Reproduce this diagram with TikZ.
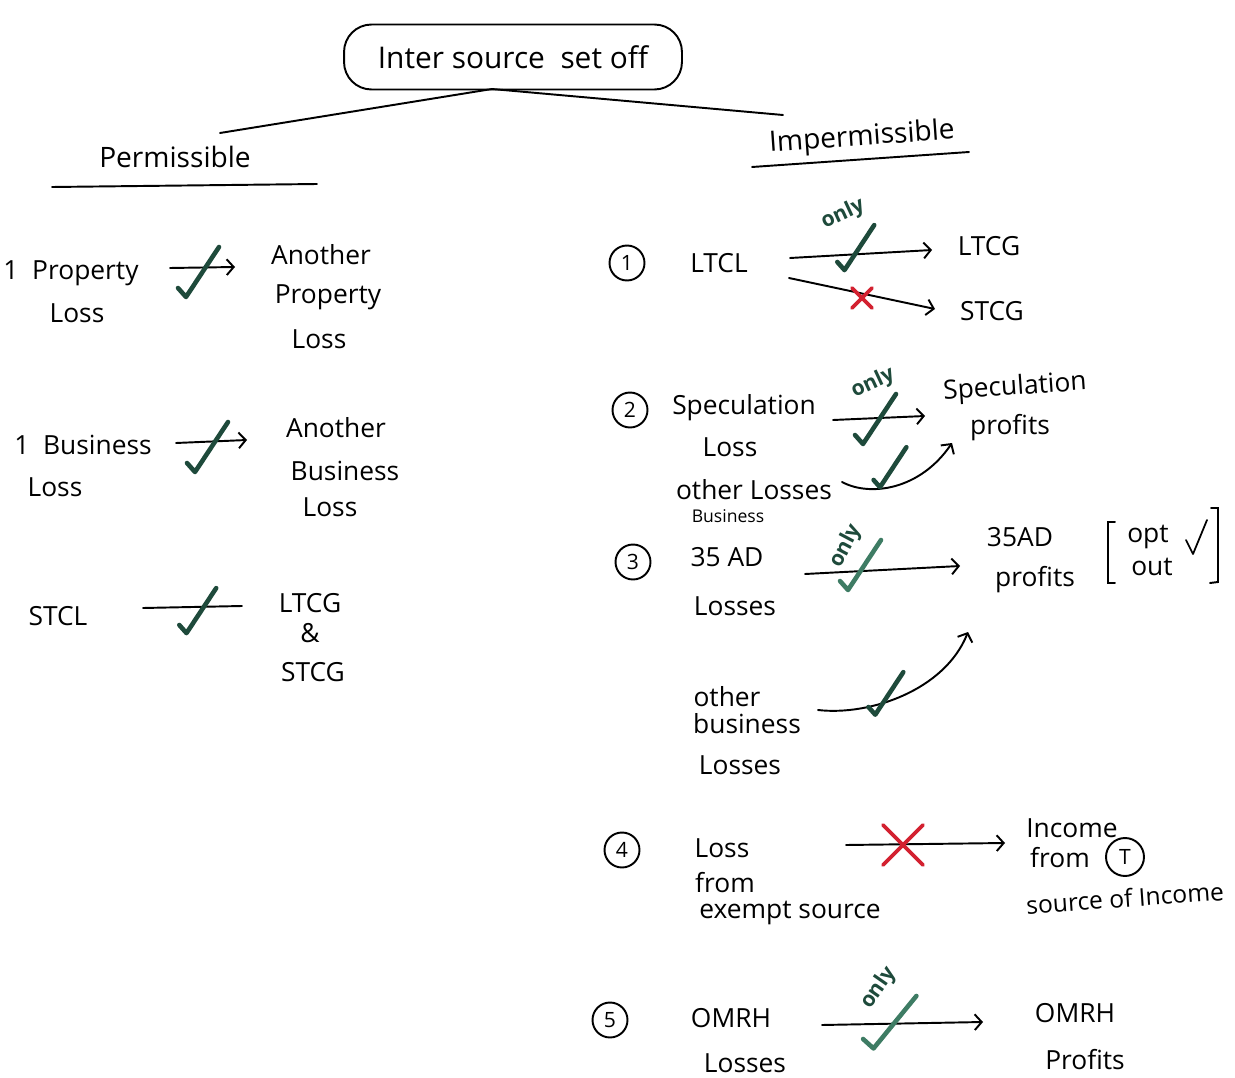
\documentclass[tikz,border=0pt]{standalone}
\usepackage{fontspec}
\setmainfont{Open Sans}
\usetikzlibrary{arrows.meta,calc}
\definecolor{dkgreen}{HTML}{1E4A3B}
\definecolor{ltgreen}{HTML}{3E7C64}
\definecolor{xred}{HTML}{D32130}
\begin{document}
\begin{tikzpicture}[x=0.02cm,y=-0.02cm,
  txt/.style={font=\fontsize{15}{17}\selectfont, inner sep=1pt},
  sm/.style={font=\fontsize{10}{12}\selectfont, inner sep=1pt},
  ln/.style={line width=1.1pt, line cap=round},
  arr/.style={ln, -{Straight Barb[length=4pt,width=9pt]}},
  num/.style={draw, circle, line width=1.1pt, minimum size=0.7cm, inner sep=0pt, font=\fontsize{12}{12}\selectfont},
  onlyt/.style={font=\fontsize{12}{12}\selectfont\bfseries, text=dkgreen, inner sep=0pt},
  tick/.pic={\draw[line width=2.6pt, line cap=round, line join=round] (-23,20) -- (-15,29) -- (18,-21);},
  xmark/.pic={\draw[line width=2.2pt, line cap=round] (-10,-10) -- (10,10) (10,-10) -- (-10,10);}
]
\useasboundingbox (0,0) rectangle (1235,1078);

% title
\node[draw, ln, rounded corners=0.55cm, minimum width=6.76cm, minimum height=1.3cm,
      font=\fontsize{17}{20}\selectfont] (top) at (513,57) {Inter source\ \ set off};
\coordinate (root) at (492,89);
\node[font=\fontsize{16}{18}\selectfont, inner sep=1pt] (perm) at (175,157) {Permissible};
\node[font=\fontsize{16}{18}\selectfont, inner sep=1pt, rotate=4] (imp) at (862,138) {Impermissible};
\coordinate (lt) at (220,133);
\coordinate (rt) at (783,115);
\draw[ln] (root) -- (lt);
\draw[ln] (root) -- (rt);
\coordinate (pu1) at (52,187);
\coordinate (pu2) at (317,184);
\draw[ln] (pu1) -- (pu2);
\coordinate (iu1) at (752,167);
\coordinate (iu2) at (969,152);
\draw[ln] (iu1) -- (iu2);

% ---------- permissible ----------
\node[txt] (p1a) at (71,273) {1\ \ Property};
\node[txt] (p1b) at (77,313) {Loss};
\coordinate (a1s) at (170,268);
\coordinate (a1e) at (235,267);
\draw[arr] (a1s) -- (a1e);
\pic[dkgreen] (ck1) at (201,268) {tick};
\node[txt] (q1a) at (321,255) {Another};
\node[txt] (q1b) at (328,297) {Property};
\node[txt] (q1c) at (319,339) {Loss};

\node[txt] (p2a) at (83,445) {1\ \ Business};
\node[txt] (p2b) at (55,487) {Loss};
\coordinate (a2s) at (176,443);
\coordinate (a2e) at (247,440);
\draw[arr] (a2s) -- (a2e);
\pic[dkgreen] (ck2) at (210,443) {tick};
\node[txt] (q2a) at (336,428) {Another};
\node[txt] (q2b) at (345,471) {Business};
\node[txt] (q2c) at (330,507) {Loss};

\node[txt] (p3a) at (58,616) {STCL};
\coordinate (a3s) at (143,608);
\coordinate (a3e) at (242,606);
\draw[ln] (a3s) -- (a3e);
\pic[dkgreen, scale=0.9] (ck3) at (200,607) {tick};
\node[txt] (q3a) at (310,603) {LTCG};
\node[txt] (q3b) at (310,633) {\&};
\node[txt] (q3c) at (313,672) {STCG};

% ---------- impermissible ----------
% 1
\node[num] (n1) at (627,263) {1};
\node[txt] (r1a) at (719,263) {LTCL};
\coordinate (b1s) at (790,258);
\coordinate (b1e) at (932,250);
\draw[arr] (b1s) -- (b1e);
\node[onlyt, rotate=25] (o1) at (843,214) {only};
\pic[dkgreen, scale=0.9] (ck4) at (858,244) {tick};
\node[txt] (r1b) at (989,246) {LTCG};
\coordinate (b2s) at (789,278);
\coordinate (b2e) at (935,309);
\draw[arr] (b2s) -- (b2e);
\pic[xred] (x1) at (862,298) {xmark};
\node[txt] (r1c) at (992,311) {STCG};

% 2
\node[num] (n2) at (630,410) {2};
\node[txt] (r2a) at (744,408) {Speculation};
\node[txt] (r2b) at (730,447) {Loss};
\coordinate (c1s) at (833,420);
\coordinate (c1e) at (925,416);
\draw[arr] (c1s) -- (c1e);
\node[onlyt, rotate=25] (o2) at (873,383) {only};
\pic[dkgreen] (ck5) at (878,415) {tick};
\node[txt, rotate=4] (r2c) at (1015,388) {Speculation};
\node[txt] (r2d) at (1010,428) {profits};
\node[txt] (r2e) at (754,490) {other Losses};
\node[sm] (r2f) at (728,516) {Business};
\coordinate (c2s) at (842,482);
\coordinate (c2e) at (952,443);
\draw[arr] (c2s) .. controls (870,497) and (920,490) .. (c2e);
\pic[dkgreen, scale=0.8] (ck6) at (892,464) {tick};

% 3
\node[num] (n3) at (633,562) {3};
\node[txt] (r3a) at (727,557) {35 AD};
\node[txt] (r3b) at (735,606) {Losses};
\coordinate (d1s) at (805,574);
\coordinate (d1e) at (960,566);
\draw[arr] (d1s) -- (d1e);
\pic[ltgreen] (ck7) at (863,561) {tick};
\node[onlyt, rotate=62] (o3) at (846,546) {only};
\node[txt] (r3c) at (1020,537) {35AD};
\node[txt] (r3d) at (1035,580) {profits};
\coordinate (bl1) at (1115,522);
\coordinate (bl2) at (1115,583);
\draw[ln] (bl1) -- (1108,522) -- (1108,583) -- (bl2);
\coordinate (br1) at (1211,508);
\coordinate (br2) at (1210,583);
\draw[ln] (br1) -- (1218,508) -- (1218,582) -- (br2);
\node[txt] (r3e) at (1148,537) {opt};
\node[txt] (r3f) at (1152,567) {out};
\coordinate (ok1) at (1186,540);
\coordinate (ok2) at (1207,520);
\draw[line width=1pt, line cap=round, line join=round] (ok1) -- (1193,554) -- (ok2);
\node[txt] (r3g) at (727,697) {other};
\node[txt] (r3h) at (747,724) {business};
\node[txt] (r3i) at (740,765) {Losses};
\coordinate (d2s) at (818,710);
\coordinate (d2e) at (968,632);
\draw[arr] (d2s) .. controls (870,716) and (945,690) .. (d2e);
\pic[dkgreen, scale=0.85] (ck8) at (888,690) {tick};

% 4
\node[num] (n4) at (622,850) {4};
\node[txt] (r4a) at (722,848) {Loss};
\node[txt] (r4b) at (725,883) {from};
\node[txt] (r4c) at (790,913) {exempt source};
\coordinate (e1s) at (846,845);
\coordinate (e1e) at (1005,843);
\draw[arr] (e1s) -- (e1e);
\pic[xred, scale=2] (x2) at (903,845) {xmark};
\node[txt] (r4d) at (1072,828) {Income};
\node[txt] (r4e) at (1060,858) {from};
\node[num, minimum size=0.76cm] (r4t) at (1125,857) {T};
\node[txt, font=\fontsize{14}{16}\selectfont, rotate=4] (r4f) at (1125,898) {source of Income};

% 5
\node[num] (n5) at (610,1020) {5};
\node[txt] (r5a) at (731,1018) {OMRH};
\node[txt] (r5b) at (745,1063) {Losses};
\coordinate (f1s) at (822,1025);
\coordinate (f1e) at (983,1022);
\draw[arr] (f1s) -- (f1e);
\node[onlyt, rotate=55] (o5) at (879,988) {only};
\pic[ltgreen, xscale=1.3, yscale=1.05] (ck9) at (893,1018) {tick};
\node[txt] (r5c) at (1075,1013) {OMRH};
\node[txt] (r5d) at (1085,1060) {Profits};
\end{tikzpicture}
\end{document}
